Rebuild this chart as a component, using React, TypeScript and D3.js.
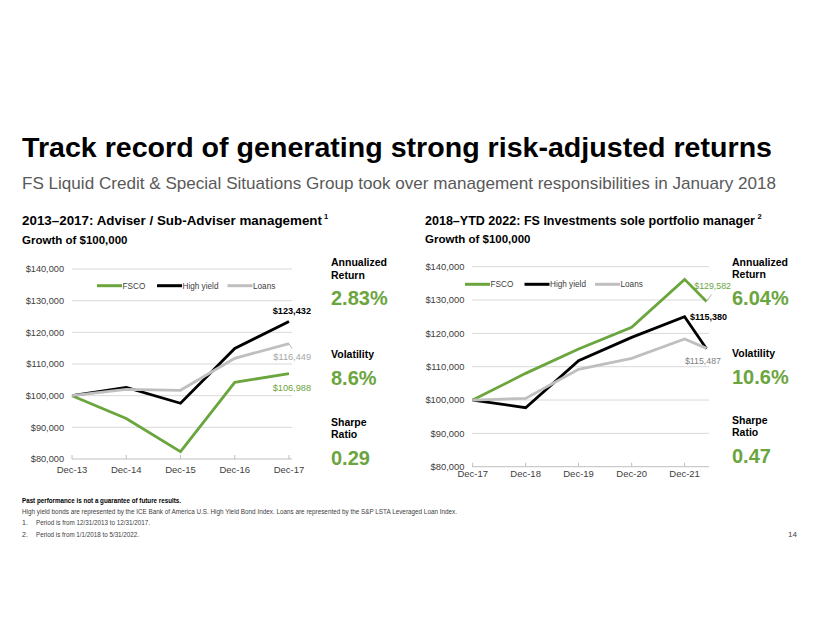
import React from "react";
import * as d3 from "d3";

// ---------- DATA ----------
const leftCategories = ["Dec-13", "Dec-14", "Dec-15", "Dec-16", "Dec-17"];
const leftFSCO = [100000, 92800, 82300, 104200, 106988];
const leftHighYield = [100000, 102600, 97600, 114900, 123432];
const leftLoans = [100000, 102000, 101700, 111800, 116449];

const rightDates = ["2017-12-31", "2018-12-31", "2019-12-31", "2020-12-31", "2021-12-31", "2022-05-31"];
const rightTickLabels = ["Dec-17", "Dec-18", "Dec-19", "Dec-20", "Dec-21"];
const rightFSCO = [100000, 108000, 115300, 121800, 136200, 129582];
const rightHighYield = [100000, 97700, 111800, 118800, 125000, 115380];
const rightLoans = [100000, 100500, 109200, 112500, 118300, 115487];

const yTicks = [80000, 90000, 100000, 110000, 120000, 130000, 140000];
const seriesNames = ["FSCO", "High yield", "Loans"];

const leftStats = ["2.83%", "8.6%", "0.29"];
const rightStats = ["6.04%", "10.6%", "0.47"];

// ---------- STYLE ----------
const GREEN = "#6BA53E";
const BLACK = "#000000";
const GRAY = "#BFBFBF";
const LABEL_GRAY = "#A6A6A6";
const GRID = "#D9D9D9";
const AXIS_TEXT = "#404040";
const FONT = "'Liberation Sans', Arial, sans-serif";
const seriesColors = [GREEN, BLACK, GRAY];

const fmt = (v: number) => "$" + d3.format(",")(v);

function Legend({ x, y, items }: { x: number[]; y: number; items: string[] }) {
  return (
    <g>
      {items.map((name, i) => (
        <g key={name}>
          <line x1={x[i]} x2={x[i] + 25} y1={y} y2={y} stroke={seriesColors[i]} strokeWidth={3} />
          <text x={x[i] + 25.5} y={y + 3} fontSize={8.2} fill={AXIS_TEXT} fontFamily={FONT}>
            {name}
          </text>
        </g>
      ))}
    </g>
  );
}

function Stats({ x, vals, baselines }: { x: number; vals: string[]; baselines: number[] }) {
  const lab = { fontSize: 10.5, fontWeight: 700, fill: "#000", fontFamily: FONT } as any;
  const big = { fontSize: 20, fontWeight: 700, fill: GREEN, fontFamily: FONT } as any;
  const [a1, a2, v1, s0, v2, s1, s2, v3] = baselines;
  return (
    <g>
      <text x={x} y={a1} {...lab}>Annualized</text>
      <text x={x} y={a2} {...lab}>Return</text>
      <text x={x} y={v1} {...big}>{vals[0]}</text>
      <text x={x} y={s0} {...lab}>Volatility</text>
      <text x={x} y={v2} {...big}>{vals[1]}</text>
      <text x={x} y={s1} {...lab}>Sharpe</text>
      <text x={x} y={s2} {...lab}>Ratio</text>
      <text x={x} y={v3} {...big}>{vals[2]}</text>
    </g>
  );
}

function LeftChart() {
  const x = d3.scalePoint<string>().domain(leftCategories).range([72, 289]);
  const y = d3.scaleLinear().domain([80000, 140000]).range([459, 269]);
  const gridX0 = 72;
  const gridX1 = 292;
  const line = d3
    .line<number>()
    .x((_, i) => x(leftCategories[i]) as number)
    .y((d) => y(d));
  const series = [leftFSCO, leftHighYield, leftLoans];
  const last = leftCategories.length - 1;
  const lx = x(leftCategories[last]) as number;
  return (
    <g>
      {yTicks.map((t) => (
        <g key={t}>
          {t !== 80000 && <line x1={gridX0} x2={gridX1} y1={y(t)} y2={y(t)} stroke={GRID} strokeWidth={1} />}
          <text x={64} y={y(t) + 3.3} textAnchor="end" fontSize={9.2} fill={AXIS_TEXT} fontFamily={FONT}>
            {fmt(t)}
          </text>
        </g>
      ))}
      <line x1={gridX0} x2={gridX1} y1={y(80000)} y2={y(80000)} stroke="#BFBFBF" strokeWidth={1} />
      {leftCategories.map((c) => (
        <g key={c}>
          <line x1={x(c)} x2={x(c)} y1={y(80000) - 4} y2={y(80000)} stroke="#BFBFBF" />
          <text x={x(c)} y={y(80000) + 14} textAnchor="middle" fontSize={9.5} fill={AXIS_TEXT} fontFamily={FONT}>
            {c}
          </text>
        </g>
      ))}
      {series.map((s, i) => (
        <path key={i} d={line(s) || ""} fill="none" stroke={seriesColors[i]} strokeWidth={2.8} strokeLinejoin="miter" />
      ))}
      <line x1={lx} y1={y(leftLoans[last])} x2={lx + 3} y2={y(leftLoans[last]) + 5} stroke={LABEL_GRAY} strokeWidth={0.8} />
      <text x={311} y={y(leftHighYield[last]) - 7} textAnchor="end" fontSize={9.2} fontWeight={700} fill={BLACK} fontFamily={FONT}>
        {fmt(leftHighYield[last])}
      </text>
      <text x={311} y={y(leftLoans[last]) + 16.5} textAnchor="end" fontSize={9.2} fill={LABEL_GRAY} fontFamily={FONT}>
        {fmt(leftLoans[last])}
      </text>
      <text x={311} y={y(leftFSCO[last]) + 17} textAnchor="end" fontSize={9.2} fill={GREEN} fontFamily={FONT}>
        {fmt(leftFSCO[last])}
      </text>
      <Legend x={[97, 157, 227.5]} y={285.7} items={seriesNames} />
    </g>
  );
}

function RightChart() {
  const parse = d3.timeParse("%Y-%m-%d");
  const dates = rightDates.map((d) => parse(d) as Date);
  const x = d3.scaleTime().domain([dates[0], dates[dates.length - 1]]).range([472.7, 706.5]);
  const y = d3.scaleLinear().domain([80000, 140000]).range([466.7, 266.7]);
  const gridX0 = 472;
  const gridX1 = 709;
  const line = d3
    .line<number>()
    .x((_, i) => x(dates[i]))
    .y((d) => y(d));
  const series = [rightFSCO, rightHighYield, rightLoans];
  const last = dates.length - 1;
  const ex = x(dates[last]);
  return (
    <g>
      {yTicks.map((t) => (
        <g key={t}>
          {t !== 80000 && <line x1={gridX0} x2={gridX1} y1={y(t)} y2={y(t)} stroke={GRID} strokeWidth={1} />}
          <text x={464.5} y={y(t) + 3.3} textAnchor="end" fontSize={9.4} fill={AXIS_TEXT} fontFamily={FONT}>
            {fmt(t)}
          </text>
        </g>
      ))}
      <line x1={gridX0} x2={gridX1} y1={y(80000)} y2={y(80000)} stroke="#BFBFBF" strokeWidth={1} />
      {rightTickLabels.map((c, i) => (
        <g key={c}>
          <line x1={x(dates[i])} x2={x(dates[i])} y1={y(80000) - 4} y2={y(80000)} stroke="#BFBFBF" />
          <text x={x(dates[i])} y={y(80000) + 10.5} textAnchor="middle" fontSize={9.5} fill={AXIS_TEXT} fontFamily={FONT}>
            {c}
          </text>
        </g>
      ))}
      {series.map((s, i) => (
        <path key={i} d={line(s) || ""} fill="none" stroke={seriesColors[i]} strokeWidth={2.8} strokeLinejoin="miter" />
      ))}
      <line x1={ex} y1={y(rightFSCO[last])} x2={ex + 5} y2={y(rightFSCO[last]) - 7} stroke={LABEL_GRAY} strokeWidth={0.8} />
      <text x={731} y={y(rightFSCO[last]) - 12.5} textAnchor="end" fontSize={8.8} fill={GREEN} fontFamily={FONT}>
        {fmt(rightFSCO[last])}
      </text>
      <text x={727} y={y(rightHighYield[last - 1]) + 3} textAnchor="end" fontSize={9} fontWeight={700} fill={BLACK} fontFamily={FONT}>
        {fmt(rightHighYield[last])}
      </text>
      <text x={721} y={y(rightLoans[last]) + 15.5} textAnchor="end" fontSize={8.8} fill="#7F7F7F" fontFamily={FONT}>
        {fmt(rightLoans[last])}
      </text>
      <Legend x={[465, 524.5, 595]} y={284.3} items={seriesNames} />
    </g>
  );
}

export default function App() {
  const adj = "spacingAndGlyphs";
  return (
    <svg
      width={820}
      height={634}
      viewBox="0 0 820 634"
      style={{ position: "absolute", left: 0, top: 0, background: "#fff", display: "block" }}
      fontFamily={FONT}
    >
      <rect x={0} y={0} width={820} height={634} fill="#fff" />
      <text x={22} y={157} fontSize={28.5} fontWeight={700} fill="#000" textLength={750} lengthAdjust={adj}>
        Track record of generating strong risk-adjusted returns
      </text>
      <text x={22} y={189} fontSize={17} fill="#595959" textLength={754} lengthAdjust={adj}>
        FS Liquid Credit &amp; Special Situations Group took over management responsibilities in January 2018
      </text>

      <text x={22} y={225} fontSize={12.6} fontWeight={700} fill="#000" textLength={300} lengthAdjust={adj}>
        2013–2017: Adviser / Sub-Adviser management
      </text>
      <text x={324} y={219} fontSize={7.5} fontWeight={700} fill="#000">1</text>
      <text x={425} y={225} fontSize={12.4} fontWeight={700} fill="#000" textLength={330} lengthAdjust={adj}>
        2018–YTD 2022: FS Investments sole portfolio manager
      </text>
      <text x={757.5} y={219} fontSize={7.5} fontWeight={700} fill="#000">2</text>
      <text x={22} y={244} fontSize={11.5} fontWeight={700} fill="#000">
        Growth of $100,000
      </text>
      <text x={425} y={243} fontSize={11.5} fontWeight={700} fill="#000">
        Growth of $100,000
      </text>

      <LeftChart />
      <RightChart />

      <Stats x={331} vals={leftStats} baselines={[266, 278.5, 305, 358, 385, 425.5, 437.5, 465]} />
      <Stats x={732} vals={rightStats} baselines={[265.5, 278, 305, 356.5, 384, 424, 436, 463]} />

      <text x={22} y={503} fontSize={7} fontWeight={700} fill="#000" textLength={159} lengthAdjust={adj}>
        Past performance is not a guarantee of future results.
      </text>
      <text x={22} y={513.5} fontSize={7} fill="#404040" textLength={435} lengthAdjust={adj}>
        High yield bonds are represented by the ICE Bank of America U.S. High Yield Bond Index. Loans are represented by the S&amp;P LSTA Leveraged Loan Index.
      </text>
      <text x={22} y={524.5} fontSize={7} fill="#404040">1.</text>
      <text x={36} y={524.5} fontSize={7} fill="#404040" textLength={114} lengthAdjust={adj}>Period is from 12/31/2013 to 12/31/2017.</text>
      <text x={22} y={536.5} fontSize={7} fill="#404040">2.</text>
      <text x={36} y={536.5} fontSize={7} fill="#404040" textLength={103} lengthAdjust={adj}>Period is from 1/1/2018 to 5/31/2022.</text>
      <text x={797} y={537} fontSize={8} textAnchor="end" fill="#404040">14</text>
    </svg>
  );
}
